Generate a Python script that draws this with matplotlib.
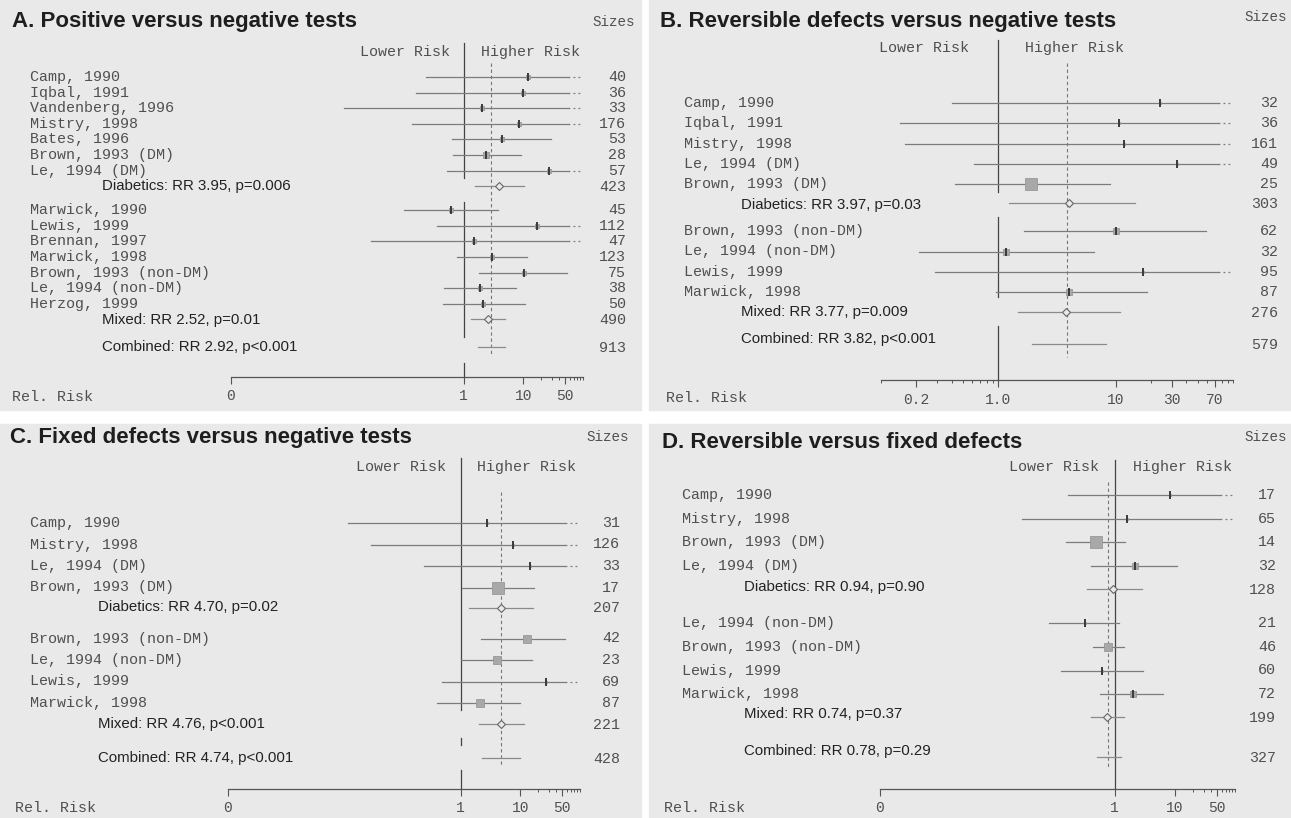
import numpy as np
import matplotlib
matplotlib.use('Agg')
import matplotlib.pyplot as plt
from matplotlib.patches import Rectangle
from matplotlib.ticker import FixedLocator, NullFormatter

W, H = 1291, 818
MONO = ['Liberation Mono', 'DejaVu Sans Mono']
SANS = ['Liberation Sans', 'DejaVu Sans']
BIG = 150.0   # upper limit runs off the scale

# ---- A. Positive versus negative tests
A_title = 'A. Positive versus negative tests'
A_names = ['Camp, 1990', 'Iqbal, 1991', 'Vandenberg, 1996', 'Mistry, 1998', 'Bates, 1996',
           'Brown, 1993 (DM)', 'Le, 1994 (DM)',
           'Marwick, 1990', 'Lewis, 1999', 'Brennan, 1997', 'Marwick, 1998',
           'Brown, 1993 (non-DM)', 'Le, 1994 (non-DM)', 'Herzog, 1999']
A_n = [40, 36, 33, 176, 53, 28, 57, 45, 112, 47, 123, 75, 38, 50]
A_rr = [12, 10, 2.0, 8.6, 4.4, 2.4, 27, 0.61, 17, 1.5, 2.96, 10.4, 1.9, 2.1]
A_lo = [0.23, 0.16, 0.01, 0.135, 0.64, 0.66, 0.53, 0.10, 0.35, 0.028, 0.77, 1.8, 0.47, 0.45]
A_hi = [BIG, BIG, BIG, BIG, 29, 9.3, BIG, 3.7, BIG, BIG, 11.7, 54, 7.6, 10.8]
A_box = [3, 3, 3, 3, 3, 4, 3, 3, 3, 3, 3, 3, 3, 3]
A_n_dm = 7
A_sum_rr = [3.95, 2.52, 2.92]
A_sum_p = ['p=0.006', 'p=0.01', 'p<0.001']
A_sum_lo = [1.57, 1.3, 1.76]
A_sum_hi = [10.4, 5.0, 5.0]
A_sum_n = [423, 490, 913]

# ---- B. Reversible defects versus negative tests
B_title = 'B. Reversible defects versus negative tests'
B_names = ['Camp, 1990', 'Iqbal, 1991', 'Mistry, 1998', 'Le, 1994 (DM)', 'Brown, 1993 (DM)',
           'Brown, 1993 (non-DM)', 'Le, 1994 (non-DM)', 'Lewis, 1999', 'Marwick, 1998']
B_n = [32, 36, 161, 49, 25, 62, 32, 95, 87]
B_rr = [24, 10.6, 11.7, 33, 1.9, 10, 1.17, 17, 4.0]
B_lo = [0.40, 0.145, 0.16, 0.62, 0.43, 1.67, 0.21, 0.29, 0.96]
B_hi = [BIG, BIG, BIG, BIG, 8.9, 59, 6.6, BIG, 18.4]
B_box = [2, 2, 2, 2, 9, 5, 5, 2, 5]
B_n_dm = 5
B_sum_rr = [3.97, 3.77, 3.82]
B_sum_p = ['p=0.03', 'p=0.009', 'p<0.001']
B_sum_lo = [1.23, 1.48, 1.95]
B_sum_hi = [14.6, 10.8, 8.2]
B_sum_n = [303, 276, 579]

# ---- C. Fixed defects versus negative tests
C_title = 'C. Fixed defects versus negative tests'
C_names = ['Camp, 1990', 'Mistry, 1998', 'Le, 1994 (DM)', 'Brown, 1993 (DM)',
           'Brown, 1993 (non-DM)', 'Le, 1994 (non-DM)', 'Lewis, 1999', 'Marwick, 1998']
C_n = [31, 126, 33, 17, 42, 23, 69, 87]
C_rr = [2.8, 7.5, 14.5, 4.2, 12.9, 4.0, 27, 2.1]
C_lo = [0.013, 0.031, 0.24, 1.03, 2.2, 1.0, 0.48, 0.4]
C_hi = [BIG, BIG, BIG, 17, 70, 15.8, BIG, 10]
C_box = [2, 2, 2, 9, 6, 6, 2, 6]
C_n_dm = 4
C_sum_rr = [4.70, 4.76, 4.74]
C_sum_p = ['p=0.02', 'p<0.001', 'p<0.001']
C_sum_lo = [1.36, 2.0, 2.3]
C_sum_hi = [16, 11.4, 10]
C_sum_n = [207, 221, 428]

# ---- D. Reversible versus fixed defects
D_title = 'D. Reversible versus fixed defects'
D_names = ['Camp, 1990', 'Mistry, 1998', 'Brown, 1993 (DM)', 'Le, 1994 (DM)',
           'Le, 1994 (non-DM)', 'Brown, 1993 (non-DM)', 'Lewis, 1999', 'Marwick, 1998']
D_n = [17, 65, 14, 32, 21, 46, 60, 72]
D_rr = [8.3, 1.6, 0.49, 2.2, 0.32, 0.77, 0.62, 2.0]
D_lo = [0.17, 0.029, 0.155, 0.4, 0.08, 0.43, 0.13, 0.57]
D_hi = [BIG, BIG, 1.5, 11, 1.2, 1.4, 2.9, 6.4]
D_box = [2, 2, 8, 5, 2, 6, 2, 5]
D_n_dm = 4
D_sum_rr = [0.94, 0.74, 0.78]
D_sum_p = ['p=0.90', 'p=0.37', 'p=0.29']
D_sum_lo = [0.35, 0.41, 0.51]
D_sum_hi = [2.8, 1.4, 1.25]
D_sum_n = [128, 199, 327]

sum_names = ['Diabetics', 'Mixed', 'Combined']

wide_ticks = dict(major=[1.25e-4, 1, 10, 50], labels=['0', '1', '10', '50'],
                  minor=[20, 30, 40, 60, 70, 80, 90, 100])
b_ticks = dict(major=[0.2, 1, 10, 30, 70], labels=['0.2', '1.0', '10', '30', '70'],
               minor=[0.1, 0.3, 0.4, 0.5, 0.6, 0.7, 0.8, 0.9, 20, 40, 50, 60, 80, 90, 100])

# layout in pixels of the 1291x818 picture
panels = [
    dict(title=A_title, names=A_names, n=A_n, rr=A_rr, lo=A_lo, hi=A_hi, box=A_box, n_dm=A_n_dm,
         s_rr=A_sum_rr, s_p=A_sum_p, s_lo=A_sum_lo, s_hi=A_sum_hi, s_n=A_sum_n,
         rect=(0, 0, 641, 410), title_xy=(12, 22), sizes_xy=(635, 22), head=(52, 14, 17),
         ax_x=(231, 583), ax_y=377, xlim=(1.25e-4, 100), ticks=wide_ticks,
         lab_x=30, sum_x=102, n_x=626, rel_xy=(12, 397), sum_dy=(0, 1, 0),
         rows=(77, 15.6, 15.6, 24, 15.6, 28),
         solid=[(43, 178), (202, 337), (363, 377)], dash=(63, 355)),
    dict(title=B_title, names=B_names, n=B_n, rr=B_rr, lo=B_lo, hi=B_hi, box=B_box, n_dm=B_n_dm,
         s_rr=B_sum_rr, s_p=B_sum_p, s_lo=B_sum_lo, s_hi=B_sum_hi, s_n=B_sum_n,
         rect=(649, 0, 1291, 410), title_xy=(660, 22), sizes_xy=(1287, 17), head=(48, 29, 27),
         ax_x=(881, 1233), ax_y=380, xlim=(0.1, 100), ticks=b_ticks,
         lab_x=684, sum_x=741, n_x=1278, rel_xy=(666, 398), sum_dy=(2, 0, -5),
         rows=(103, 20.3, 19, 28, 20, 32),
         solid=[(40, 192), (217, 297), (326, 380)], dash=(63, 357)),
    dict(title=C_title, names=C_names, n=C_n, rr=C_rr, lo=C_lo, hi=C_hi, box=C_box, n_dm=C_n_dm,
         s_rr=C_sum_rr, s_p=C_sum_p, s_lo=C_sum_lo, s_hi=C_sum_hi, s_n=C_sum_n,
         rect=(0, 424, 641, 818), title_xy=(10, 438), sizes_xy=(629, 437), head=(467, 15, 16),
         ax_x=(228, 580), ax_y=789, xlim=(1.25e-4, 100), ticks=wide_ticks,
         lab_x=30, sum_x=98, n_x=620, rel_xy=(15, 808), sum_dy=(0, 0, 0),
         rows=(523, 21.5, 20, 31, 21, 34),
         solid=[(458, 710), (738, 745), (770, 789)], dash=(492, 767)),
    dict(title=D_title, names=D_names, n=D_n, rr=D_rr, lo=D_lo, hi=D_hi, box=D_box, n_dm=D_n_dm,
         s_rr=D_sum_rr, s_p=D_sum_p, s_lo=D_sum_lo, s_hi=D_sum_hi, s_n=D_sum_n,
         rect=(649, 424, 1291, 818), title_xy=(662, 442), sizes_xy=(1287, 437), head=(467, 16, 18),
         ax_x=(880, 1235), ax_y=789, xlim=(1.25e-4, 100), ticks=wide_ticks,
         lab_x=682, sum_x=744, n_x=1276, rel_xy=(664, 808), sum_dy=(-2, -3, -6),
         rows=(495, 23.6, 23, 34.5, 23, 40),
         solid=[(460, 789)], dash=(482, 767)),
]

fig = plt.figure(figsize=(W / 100, H / 100), dpi=100)
fig.patch.set_facecolor('white')

TXT = '#505050'


def T(x, y, s, **kw):
    fig.text(x / W, 1 - y / H, s, **kw)


def draw_panel(p):
    x0, y0, x1, y1 = p['rect']
    fig.add_artist(Rectangle((x0 / W, 1 - y1 / H), (x1 - x0) / W, (y1 - y0) / H,
                             transform=fig.transFigure, color='#e9e9e9', zorder=0))
    xl, xr = p['ax_x']
    ax = fig.add_axes([xl / W, 1 - y1 / H, (xr - xl) / W, (y1 - y0) / H])
    ax.patch.set_visible(False)
    ax.set_xscale('log')
    ax.set_xlim(*p['xlim'])
    ax.set_ylim(y1, y0)
    for s in ['left', 'right', 'top']:
        ax.spines[s].set_visible(False)
    ax.spines['bottom'].set_position(('data', p['ax_y']))
    ax.spines['bottom'].set_color('#555555')
    ax.spines['bottom'].set_linewidth(0.9)
    ax.set_yticks([])
    t = p['ticks']
    ax.xaxis.set_major_locator(FixedLocator(t['major']))
    ax.set_xticklabels(t['labels'])
    ax.xaxis.set_minor_locator(FixedLocator(t['minor']))
    ax.xaxis.set_minor_formatter(NullFormatter())
    ax.tick_params(axis='x', which='major', direction='out', length=5, width=0.8,
                   color='#555555', pad=4, labelsize=10.5, labelcolor=TXT)
    ax.tick_params(axis='x', which='minor', direction='out', length=2.5, width=0.7,
                   color='#555555')
    for lab in ax.get_xticklabels():
        lab.set_family(MONO)

    # row positions
    ystart, step, g_sub, g_next, g_mix, g_comb = p['rows']
    nd = p['n_dm']
    ns = len(p['names'])
    ys = []
    for i in range(nd):
        ys.append(ystart + i * step)
    y_dm = ys[-1] + g_sub
    for i in range(ns - nd):
        ys.append(y_dm + g_next + i * step)
    y_mx = ys[-1] + g_mix
    y_cb = y_mx + g_comb
    sum_y = [y_dm, y_mx, y_cb]

    xmin, xmax = p['xlim']
    ppd = (xr - xl) / np.log10(xmax / xmin)
    trunc = xmax / 10 ** (15 / ppd)

    # reference lines
    for a, b in p['solid']:
        ax.plot([1, 1], [a, b], color='#444444', lw=0.9, zorder=2)
    comb = p['s_rr'][2]
    ax.plot([comb, comb], list(p['dash']), color='#777777', lw=0.8,
            ls=(0, (3, 2.5)), zorder=2)

    ln = '#7c7c7c'
    for i in range(ns):
        y = ys[i]
        lo, rr, hi = p['lo'][i], p['rr'][i], p['hi'][i]
        ax.plot([lo, min(hi, trunc)], [y, y], color=ln, lw=0.9, zorder=3)
        if hi > xmax:
            ax.plot([trunc, xmax], [y, y], color=ln, lw=0.9, ls=(0, (1.5, 2.5)), zorder=3)
        bx = p['box'][i]
        ax.plot(rr, y, marker='s', ms=bx, mfc='#a8a8a8', mec='#999999', mew=0.6, zorder=4)
        if bx <= 5:
            ax.plot(rr, y, marker='|', ms=6, mew=1.4, color='#3a3a3a', zorder=5)
        T(p['lab_x'], y, p['names'][i], family=MONO, fontsize=10.8, color=TXT,
          ha='left', va='center')
        T(p['n_x'], y, str(p['n'][i]), family=MONO, fontsize=10.8, color=TXT,
          ha='right', va='center')

    for j in range(3):
        y = sum_y[j]
        ax.plot([p['s_lo'][j], p['s_hi'][j]], [y, y], color='#8a8a8a', lw=0.9, zorder=3)
        if j < 2:
            ax.plot(p['s_rr'][j], y, marker='D', ms=4, mfc='#e9e9e9', mec='#666666',
                    mew=0.8, zorder=5)
        txt = '%s: RR %.2f, %s' % (sum_names[j], p['s_rr'][j], p['s_p'][j])
        T(p['sum_x'], y + p['sum_dy'][j], txt, family=SANS, fontsize=10.8, color='#222222',
          ha='left', va='center')
        T(p['n_x'], y + 1, str(p['s_n'][j]), family=MONO, fontsize=10.8, color=TXT,
          ha='right', va='center')

    # headings
    T(p['title_xy'][0], p['title_xy'][1], p['title'], family=SANS, fontsize=16,
      fontweight='bold', color='#1e1e1e', ha='left', va='center')
    T(p['sizes_xy'][0], p['sizes_xy'][1], 'Sizes', family=MONO, fontsize=10.3,
      color=TXT, ha='right', va='center')
    hy, lg, hg = p['head']
    x1px = xl + np.log10(1 / xmin) * ppd
    T(x1px - lg, hy, 'Lower Risk', family=MONO, fontsize=10.8, color=TXT,
      ha='right', va='center')
    T(x1px + hg, hy, 'Higher Risk', family=MONO, fontsize=10.8, color=TXT,
      ha='left', va='center')
    T(p['rel_xy'][0], p['rel_xy'][1], 'Rel. Risk', family=MONO, fontsize=10.8,
      color=TXT, ha='left', va='center')


for p in panels:
    draw_panel(p)

fig.savefig('out.png', dpi=100, facecolor='white')
